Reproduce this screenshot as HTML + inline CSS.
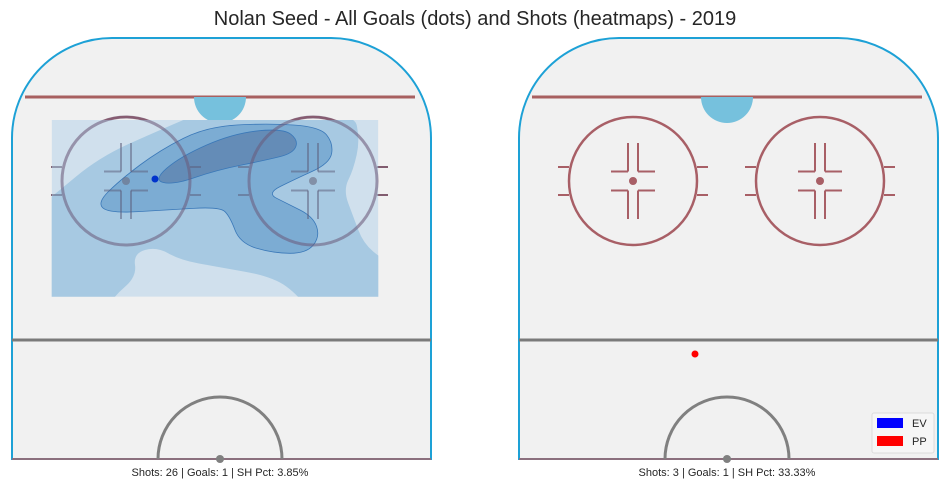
<!DOCTYPE html>
<html><head><meta charset="utf-8"><style>
body{margin:0;background:#fff;width:950px;height:489px;overflow:hidden;font-family:"Liberation Sans",sans-serif}
</style></head><body>
<svg width="950" height="489" viewBox="0 0 950 489">
<defs><clipPath id="hm"><rect x="51.7" y="120" width="326.6" height="176.7"/></clipPath></defs>
<text x="475" y="25" text-anchor="middle" font-size="20" fill="#262626">Nolan Seed - All Goals (dots) and Shots (heatmaps) - 2019</text>
<g id="rinks"></g>
</svg>
<script>
const panels=["left","right"];
const shotsArr=[26,3];
const goalsArr=[1,1];
const pctArr=["3.85%","33.33%"];
const goalX=[[155],[695]];
const goalY=[[179],[354]];
const goalColor=[["#0033cc"],["#ff0000"]];
const contourColors=["#cddeec","#a2c6e0","#78a9d1","#6288b4"];
const contours=[
 [[155,270],[1135,270],[1135,800],[155,800]],
 [[80,560],[155,500],[300,380],[480,300],[620,240],[1060,240],[1080,330],[1060,420],[1030,480],[1060,560],[1090,640],[1150,690],[1200,700],[1200,860],[930,860],[900,800],[820,740],[650,710],[540,690],[470,650],[400,670],[410,740],[340,800],[310,860],[80,860]],
 [[290,520],[360,450],[480,360],[620,290],[800,280],[960,290],[1000,340],[990,400],[880,450],[800,490],[860,520],[940,560],[960,620],[920,670],[820,670],[720,640],[690,560],[660,530],[500,540],[330,550]],
 [[460,450],[540,380],[700,310],[850,295],[895,330],[880,370],[800,390],[650,420],[520,465]]
];
const NS="http://www.w3.org/2000/svg";
const g=document.getElementById('rinks');
function mk(t,a,p){const e=document.createElementNS(NS,t);for(const k in a)e.setAttribute(k,a[k]);(p||g).appendChild(e);return e;}
function smooth(pts,sharp){
 if(sharp) return 'M'+pts.map(p=>p.join(',')).join(' L')+' Z';
 const n=pts.length;const mid=(a,b)=>[(a[0]+b[0])/2,(a[1]+b[1])/2];
 let m=mid(pts[n-1],pts[0]);let d=`M${m[0]},${m[1]}`;
 for(let i=0;i<n;i++){const p=pts[i],q=mid(p,pts[(i+1)%n]);d+=` Q${p[0]},${p[1]} ${q[0]},${q[1]}`;}
 return d+' Z';
}
const marks=[[-64,-14,-75,-14],[-64,14,-75,14],[64,-14,75,-14],[64,14,75,14],
   [-5,-38,-5,-9.5],[5,-38,5,-9.5],[-5,9.5,-5,38],[5,9.5,5,38],
   [-22,-9.5,-5,-9.5],[5,-9.5,22,-9.5],[-22,9.5,-5,9.5],[5,9.5,22,9.5]];
panels.forEach((pn,i)=>{
 const ox=i*507;
 const grp=mk('g',{transform:`translate(${ox},0)`});
 
 
 const L=12,R=431,T=38,B=459,r=100;
 const rink=mk('path',{d:`M${L},${B} L${L},${T+r} A${r},${r} 0 0 1 ${L+r},${T} L${R-r},${T} A${r},${r} 0 0 1 ${R},${T+r} L${R},${B} Z`,fill:'#f1f1f1',stroke:'#1da1d6','stroke-width':2},grp);
 
 mk('line',{x1:L,y1:B,x2:R,y2:B,stroke:'#b06060','stroke-width':1.5},grp);
 mk('line',{x1:25,y1:97,x2:415,y2:97,stroke:'#a86060','stroke-width':3},grp);
 mk('path',{d:'M194,97 A26,26 0 0 0 246,97 Z',fill:'#76c1dd'},grp);
 [126,313].forEach(cx=>{
  mk('circle',{cx,cy:181,r:64,fill:'none',stroke:'#a85f66','stroke-width':2.5},grp);
  mk('circle',{cx,cy:181,r:4,fill:'#a85f66'},grp);
  marks.forEach(l=>mk('line',{x1:cx+l[0],y1:181+l[1],x2:cx+l[2],y2:181+l[3],stroke:'#a85f66','stroke-width':2},grp));
 });
 mk('line',{x1:L,y1:340,x2:R,y2:340,stroke:'#7a7a7a','stroke-width':3},grp);
 mk('path',{d:'M158,459 A62,62 0 0 1 282,459',fill:'none',stroke:'#808080','stroke-width':3},grp);
 mk('circle',{cx:220,cy:459,r:4,fill:'#808080'},grp);
 if(i===0){
  const hg=mk('g',{'clip-path':'url(#hm)'},grp);
  
  
  contours.forEach((c,k)=>{
   const pts=c.map(p=>[+(p[0]/3).toFixed(1),+(p[1]/3+30).toFixed(1)]);
   const e=mk('path',{d:smooth(pts,k===0),fill:contourColors[k],'fill-opacity':k===0?0.95:0.9,stroke:k>1?'#3a78b8':'none','stroke-width':0.8},hg);
   
   
  });
  [126,313].forEach(cx=>{
   mk('circle',{cx,cy:181,r:64,fill:'none',stroke:'#6a5a7a','stroke-opacity':0.55,'stroke-width':3},grp);
   mk('circle',{cx,cy:181,r:4,fill:'#6a6a80','fill-opacity':0.6},grp);
   marks.forEach(l=>mk('line',{x1:cx+l[0],y1:181+l[1],x2:cx+l[2],y2:181+l[3],stroke:'#5a5a78','stroke-opacity':0.5,'stroke-width':2},grp));
  });
 }
 goalX[i].forEach((x,k)=>{
  const d=mk('circle',{cx:x,cy:goalY[i][k],r:3.5,fill:goalColor[i][k]});
  
  
 });
 const t=mk('text',{x:220+ox,y:476,'text-anchor':'middle','font-size':11,fill:'#262626'});
 t.textContent=`Shots: ${shotsArr[i]} | Goals: ${goalsArr[i]} | SH Pct: ${pctArr[i]}`;
 
 
});
const lg=mk('g',{});


mk('rect',{x:872,y:413,width:62,height:40,rx:2,fill:'#f6f6f6',stroke:'#dcdcdc'},lg);
[["EV","#0000ff",418],["PP","#ff0000",436]].forEach(e=>{
 const r=mk('rect',{x:877,y:e[2],width:26,height:10,fill:e[1]},lg);
 
 
 const t=mk('text',{x:912,y:e[2]+9,'font-size':11,fill:'#262626'},lg);
 t.textContent=e[0];
 
 
});
</script>
</body></html>
